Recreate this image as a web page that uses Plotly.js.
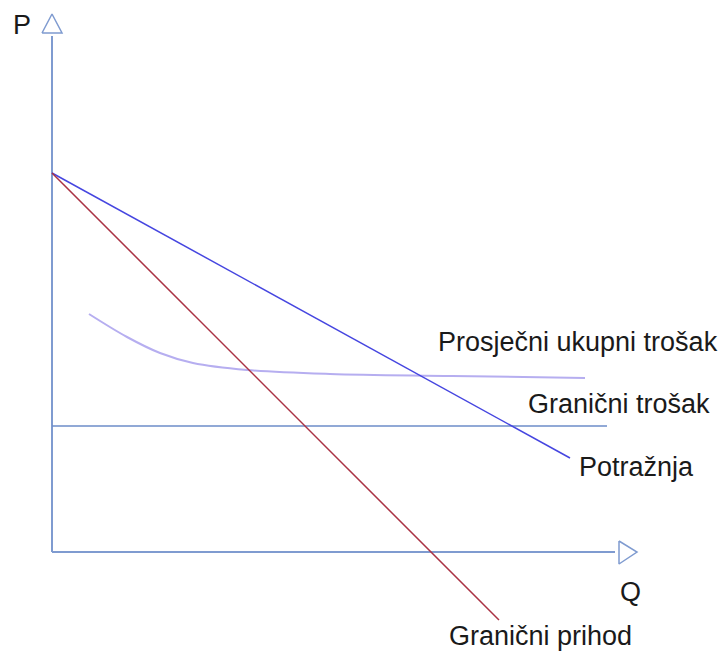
<!DOCTYPE html>
<html>
<head>
<meta charset="utf-8">
<script src="https://cdn.plot.ly/plotly-3.0.1.min.js"></script>
<style>html,body{margin:0;padding:0;background:#fff;}#chart{width:721px;height:653px;}</style>
</head>
<body>
<div id="chart"></div>
<script>
// Units: quantity (Q) and price (P) in arbitrary chart units, origin at axes crossing
var yAxisQ = [0, 0];
var yAxisP = [0, 516];
var yArrowQ = [-10, 10, 0, -10];
var yArrowP = [519, 519, 538, 519];
var xAxisQ = [0, 563];
var xAxisP = [0, 0];
var xArrowQ = [567, 567, 585, 567];
var xArrowP = [11, -12, 0, 11];

var demandQ = [0, 518];
var demandP = [379, 94];

var mrQ = [0, 447];
var mrP = [379, -68];

var mcQ = [0, 555];
var mcP = [126, 126];

var atcQ = [37, 75, 108, 141, 195, 278, 400, 533];
var atcP = [238, 215, 199, 189, 182, 178, 176, 174];

var labelText = ["P", "Q", "Prosječni ukupni trošak", "Granični trošak", "Potražnja", "Granični prihod"];
var labelQ = [-40, 567, 385, 475, 526, 396];
var labelP = [527, -40, 210, 148, 85, -84];

var axisColor = "#7f9bd0";
var traces = [
  {x: yAxisQ, y: yAxisP, mode: "lines", line: {color: axisColor, width: 2}},
  {x: yArrowQ, y: yArrowP, mode: "lines", line: {color: axisColor, width: 1.5}},
  {x: xAxisQ, y: xAxisP, mode: "lines", line: {color: axisColor, width: 2}},
  {x: xArrowQ, y: xArrowP, mode: "lines", line: {color: axisColor, width: 1.5}},
  {x: mcQ, y: mcP, mode: "lines", line: {color: "#6d8cc8", width: 1.5}},
  {x: atcQ, y: atcP, mode: "lines", line: {color: "#b6aef0", width: 2, shape: "spline", smoothing: 1}},
  {x: demandQ, y: demandP, mode: "lines", line: {color: "#4646e0", width: 1.5}},
  {x: mrQ, y: mrP, mode: "lines", line: {color: "#aa3344", width: 1.5}}
];

var annotations = labelText.map(function(t, i) {
  return {x: labelQ[i], y: labelP[i], text: t, showarrow: false, xanchor: "left", yanchor: "middle",
    borderpad: 0, font: {family: "Liberation Sans, Arial, sans-serif", size: 27, color: "#1a1a1a"}};
});

var layout = {
  width: 721, height: 653,
  margin: {l: 0, r: 0, t: 0, b: 0},
  paper_bgcolor: "#ffffff", plot_bgcolor: "#ffffff",
  showlegend: false,
  xaxis: {range: [-52, 669], visible: false, fixedrange: true},
  yaxis: {range: [-101, 552], visible: false, fixedrange: true},
  annotations: annotations
};

Plotly.newPlot("chart", traces, layout, {displayModeBar: false, staticPlot: true});
</script>
</body>
</html>
